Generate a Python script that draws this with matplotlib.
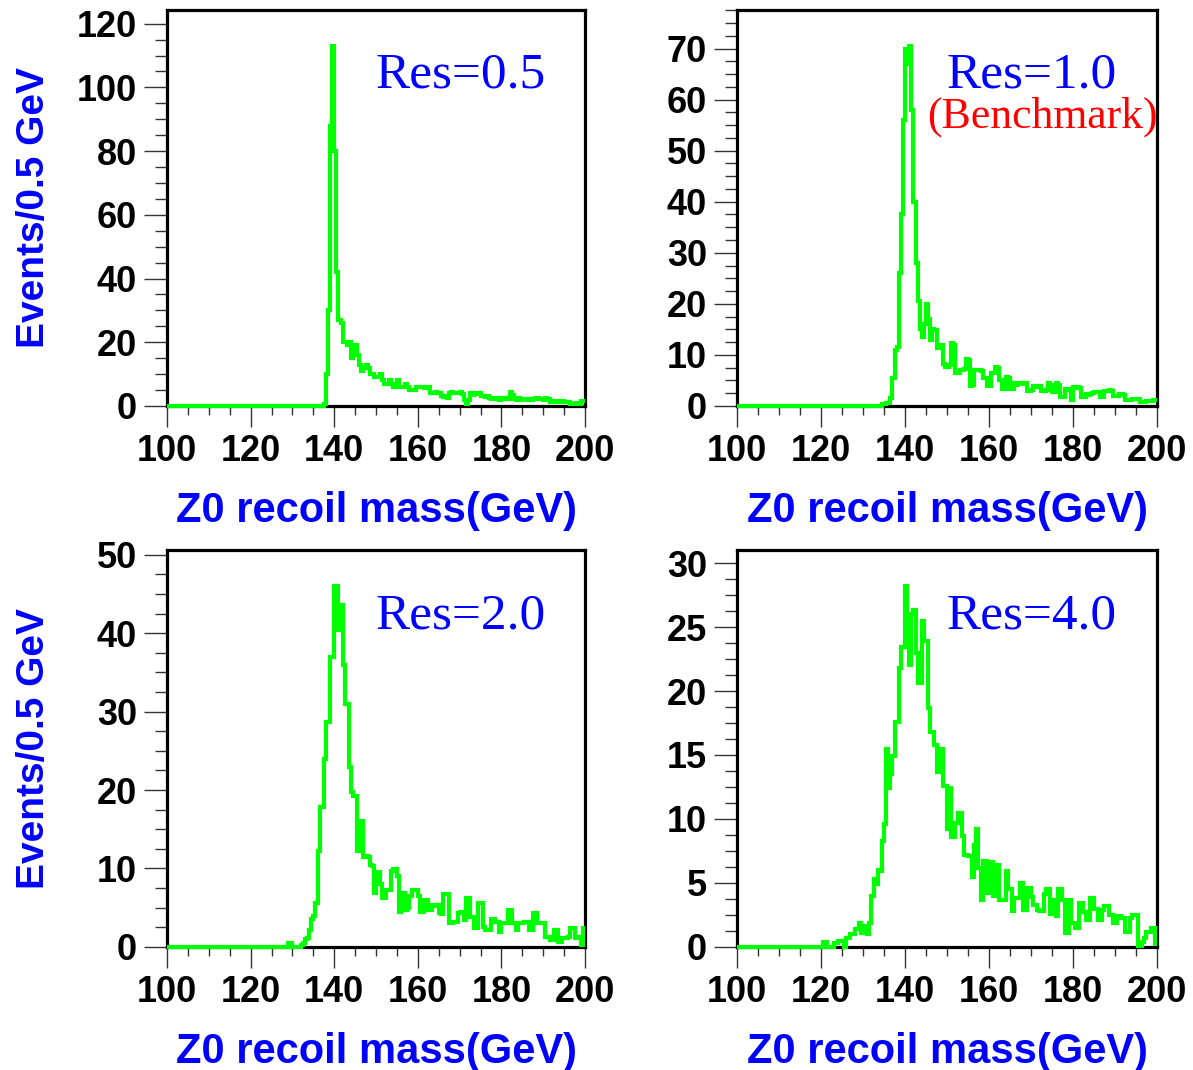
import matplotlib
matplotlib.use("Agg")
import matplotlib.pyplot as plt
import numpy as np
from matplotlib.ticker import MultipleLocator

# Z0 recoil mass spectra, 0.5 GeV bins between 100 and 200 GeV
mass_lo = 100.0
mass_hi = 200.0
bin_width = 0.5

res05_counts = [
    0, 0, 0, 0, 0, 0, 0, 0, 0, 0,
    0, 0, 0, 0, 0, 0, 0, 0, 0, 0,
    0, 0, 0, 0, 0, 0, 0, 0, 0, 0,
    0, 0, 0, 0, 0, 0, 0, 0, 0, 0,
    0, 0, 0, 0, 0, 0, 0, 0, 0, 0,
    0, 0, 0, 0, 0, 0, 0, 0, 0, 0,
    0, 0, 0, 0, 0, 0, 0, 0, 0, 0,
    0, 0, 0, 0, 0, 0.5, 10, 30, 88, 113,
    80, 42, 27, 26, 20, 20, 19, 20, 15, 17,
    19, 16, 13, 11, 12, 13, 12, 10, 10, 9,
    9, 9, 10, 8, 7, 7, 8, 7, 6, 7,
    8, 6, 6, 6, 7, 6, 5, 5, 5, 6,
    6, 6, 6, 5.5, 6, 6, 4, 4, 4.5, 4,
    4, 3, 2.8, 3, 2.5, 4, 4.5, 4, 4.2, 4,
    4.5, 3.8, 1.8, 0.7, 2, 4, 3.5, 4, 3.8, 4,
    3, 3.2, 2.8, 3, 2.5, 2.3, 2.2, 2.5, 2.3, 2,
    2.4, 2.2, 2.5, 2.2, 4.4, 3.5, 2.2, 2, 2.4, 2,
    2.2, 2.1, 1.8, 2.3, 2, 2.2, 2.4, 2.5, 2.2, 2.3,
    2, 2.4, 2.2, 1.3, 1.5, 1.2, 1.4, 1.3, 1.2, 1.4,
    1.3, 1.1, 1.3, 0.7, 0.6, 0.8, 0.7, 0.7, 1.5, 1.5,
]

res10_counts = [
    0, 0, 0, 0, 0, 0, 0, 0, 0, 0,
    0, 0, 0, 0, 0, 0, 0, 0, 0, 0,
    0, 0, 0, 0, 0, 0, 0, 0, 0, 0,
    0, 0, 0, 0, 0, 0, 0, 0, 0, 0,
    0, 0, 0, 0, 0, 0, 0, 0, 0, 0,
    0, 0, 0, 0, 0, 0, 0, 0, 0, 0,
    0, 0, 0, 0, 0, 0, 0, 0, 0, 0.3,
    0.3, 0.5, 0.5, 1.5, 5.4, 11, 11.5, 26, 37.5, 56,
    70, 67, 70.5, 58, 40, 28, 20.5, 15, 13.5, 16,
    20, 17, 13, 15, 14.9, 11.3, 11.3, 12, 8.3, 7.7,
    7.7, 8, 12.3, 12, 6.4, 6.4, 7, 7, 7.2, 9.1,
    9, 4, 4.2, 7, 7, 7, 6.8, 5.4, 5.4, 4,
    4, 6.5, 6.5, 7.7, 7.5, 5, 3.4, 3.4, 5.7, 5.5,
    3.4, 3.4, 4.4, 4.2, 4.5, 4.4, 4.3, 4.4, 3, 3,
    3.2, 4, 4, 3.8, 4, 3, 3, 3.2, 4.4, 4.2,
    2.8, 2.8, 4.4, 4.2, 1.8, 1.8, 3.4, 3.2, 3.4, 1.1,
    3.7, 3.5, 3.7, 3.6, 1.8, 1.8, 2.4, 2.2, 2.4, 2.5,
    2.8, 2.7, 2.8, 1.8, 1.8, 3, 3, 3.2, 3, 2,
    2, 2, 2.4, 2.4, 2.2, 1.1, 1.1, 1.2, 1.4, 1.4,
    1.3, 1.4, 0.8, 0.8, 0.7, 0.9, 0.9, 0.9, 1.1, 1.1,
]

res20_counts = [
    0, 0, 0, 0, 0, 0, 0, 0, 0, 0,
    0, 0, 0, 0, 0, 0, 0, 0, 0, 0,
    0, 0, 0, 0, 0, 0, 0, 0, 0, 0,
    0, 0, 0, 0, 0, 0, 0, 0, 0, 0,
    0, 0, 0, 0, 0, 0, 0, 0, 0, 0,
    0, 0, 0, 0, 0, 0, 0, 0, 0.5, 0.5,
    0, 0, 0, 0, 0.3, 0.5, 1, 1.1, 2.2, 3.5,
    4, 5.6, 12.2, 17.8, 17.8, 24, 28.7, 28.7, 37, 37,
    46, 46, 40.4, 43.6, 36, 31, 31, 23, 19.7, 19.3,
    19.3, 12.2, 12.2, 16, 11.5, 11.6, 11.5, 10.5, 10.3, 6.9,
    9.5, 9.5, 8, 6.2, 6.2, 7.3, 7.3, 9.7, 9.9, 9.9,
    9, 4.5, 6.9, 6.9, 4.7, 5, 6.5, 7.3, 7.3, 7.3,
    6.5, 4.5, 4.5, 6, 6, 4.7, 4.7, 5.4, 5.2, 5.4,
    4.3, 4.2, 6.7, 6.7, 6.7, 3, 3, 3.2, 3.2, 4.3,
    4.5, 4.5, 3.4, 6.2, 6.2, 3.8, 3.8, 2.4, 2.4, 5.6,
    5.6, 2.6, 2.1, 2.1, 2.1, 3.6, 3.6, 3.2, 3.2, 1.9,
    3, 3, 3, 4.7, 4.7, 3, 3, 2.1, 3, 3,
    3, 3.2, 3.2, 2.1, 2.1, 4.3, 4.3, 3, 3, 3,
    3, 1.3, 1.3, 0.9, 0.9, 2.1, 2.1, 0.6, 0.6, 1.1,
    1.1, 1.1, 1.3, 2.4, 2.4, 1.1, 1.3, 1.3, 0.2, 2.4,
]

res40_counts = [
    0, 0, 0, 0, 0, 0, 0, 0, 0, 0,
    0, 0, 0, 0, 0, 0, 0, 0, 0, 0,
    0, 0, 0, 0, 0, 0, 0, 0, 0, 0,
    0, 0, 0, 0, 0, 0, 0, 0, 0, 0,
    0, 0.4, 0.4, 0, 0, 0, 0.3, 0.3, 0.5, 0.5,
    0.5, 0, 0.7, 0.7, 1, 1, 1.4, 1.4, 1.9, 1.1,
    1.6, 1.6, 1, 1.9, 4, 5.3, 4.9, 6, 5.9, 8.3,
    9.6, 15.5, 12.4, 13.5, 14.9, 17.6, 17.6, 21.8, 23.4, 23.4,
    28.2, 25.2, 22, 26, 26.3, 23, 20.6, 20.6, 25.5, 23.9,
    23.9, 18.7, 16.8, 16.8, 15.8, 13.7, 13.7, 15.5, 12.6, 12.6,
    9.2, 12.4, 8.6, 8.6, 9.7, 10.5, 10.5, 8.7, 7.2, 7.2,
    7.1, 7.1, 5.5, 8, 9.2, 6.2, 3.7, 6.7, 6.7, 4.2,
    4.2, 6.6, 4, 4, 6.4, 3.7, 3.7, 3.7, 5.9, 4.5,
    4.5, 2.8, 3.8, 3.8, 3.8, 5, 2.9, 2.9, 4.6, 4.6,
    3.9, 3.3, 3.3, 2.9, 2.8, 2.8, 4.1, 4.5, 4.5, 2.6,
    3.7, 3.7, 2.4, 4.5, 4.5, 3.7, 1.1, 1.1, 3.7, 1.9,
    1.9, 1.5, 1.5, 3.4, 3.4, 2.7, 2.1, 2.1, 3.8, 3.8,
    3, 3, 2.1, 2.1, 2.9, 3.2, 3.2, 2.5, 2.5, 1.9,
    1.9, 2.4, 2.4, 2.3, 2.3, 1.2, 1.2, 2.3, 2.5, 2.5,
    2.5, 0.1, 0.1, 0.4, 0.7, 1.2, 1.2, 1.5, 1.5, 0.2,
]

res_labels = ["Res=0.5", "Res=1.0", "Res=2.0", "Res=4.0"]
y_steps = [20, 10, 10, 5]
x_title = "Z0 recoil mass(GeV)"
y_title = "Events/0.5 GeV"

SANS = ["Liberation Sans", "DejaVu Sans"]
SERIF = ["Liberation Serif", "DejaVu Serif"]
GREEN = "#00ff00"
BLUE = "#0000ff"

fig = plt.figure(figsize=(11.93, 10.70), dpi=100)

# axes boxes in figure fraction: left, bottom, width, height
boxes = [
    [0.140, 0.6206, 0.3504, 0.3701],
    [0.6178, 0.6206, 0.3520, 0.3701],
    [0.140, 0.1150, 0.3504, 0.3710],
    [0.6178, 0.1150, 0.3520, 0.3710],
]

edges = np.arange(mass_lo, mass_hi + bin_width / 2, bin_width)
all_counts = [res05_counts, res10_counts, res20_counts, res40_counts]

for i, (box, counts, label, ystep) in enumerate(zip(boxes, all_counts, res_labels, y_steps)):
    ax = fig.add_axes(box)
    ax.stairs(counts, edges, baseline=None, color=GREEN, lw=3.0,
              zorder=3, clip_on=False)

    ax.set_xlim(mass_lo, mass_hi)
    ax.set_ylim(0, 1.1 * max(counts))

    ax.xaxis.set_major_locator(MultipleLocator(20))
    ax.xaxis.set_minor_locator(MultipleLocator(5))
    ax.yaxis.set_major_locator(MultipleLocator(ystep))
    ax.yaxis.set_minor_locator(MultipleLocator(ystep / 4))

    for side in ["top", "right", "left", "bottom"]:
        ax.spines[side].set_linewidth(2.3)
        ax.spines[side].set_color("black")

    ax.tick_params(axis="x", which="major", direction="out", length=15,
                   width=1.0, color="#333333", pad=5)
    ax.tick_params(axis="x", which="minor", direction="out", length=6.5,
                   width=1.0, color="#333333")
    ax.tick_params(axis="y", which="major", direction="out", length=16.5,
                   width=1.0, color="#333333", pad=5)
    ax.tick_params(axis="y", which="minor", direction="out", length=8.5,
                   width=1.0, color="#333333")

    for t in ax.get_xticklabels() + ax.get_yticklabels():
        t.set_family(SANS)
        t.set_fontweight("bold")
        t.set_fontsize(26)

    ax.set_xlabel(x_title, family=SANS, fontweight="bold", fontsize=30,
                  color=BLUE)
    ax.xaxis.set_label_coords(0.5, -0.215)

    if i % 2 == 0:
        ax.set_ylabel(y_title, family=SANS, fontweight="bold", fontsize=28,
                      color=BLUE)
        ax.yaxis.set_label_coords(-0.275, 0.5)

    ax.text(0.5, 0.803, label, transform=ax.transAxes, family=SERIF,
            fontsize=37, color=BLUE, ha="left", va="baseline")
    if i == 1:
        ax.text(0.452, 0.702, "(Benchmark)", transform=ax.transAxes,
                family=SERIF, fontsize=31.5, color="red", ha="left",
                va="baseline")

fig.savefig("out.png", dpi=100)
